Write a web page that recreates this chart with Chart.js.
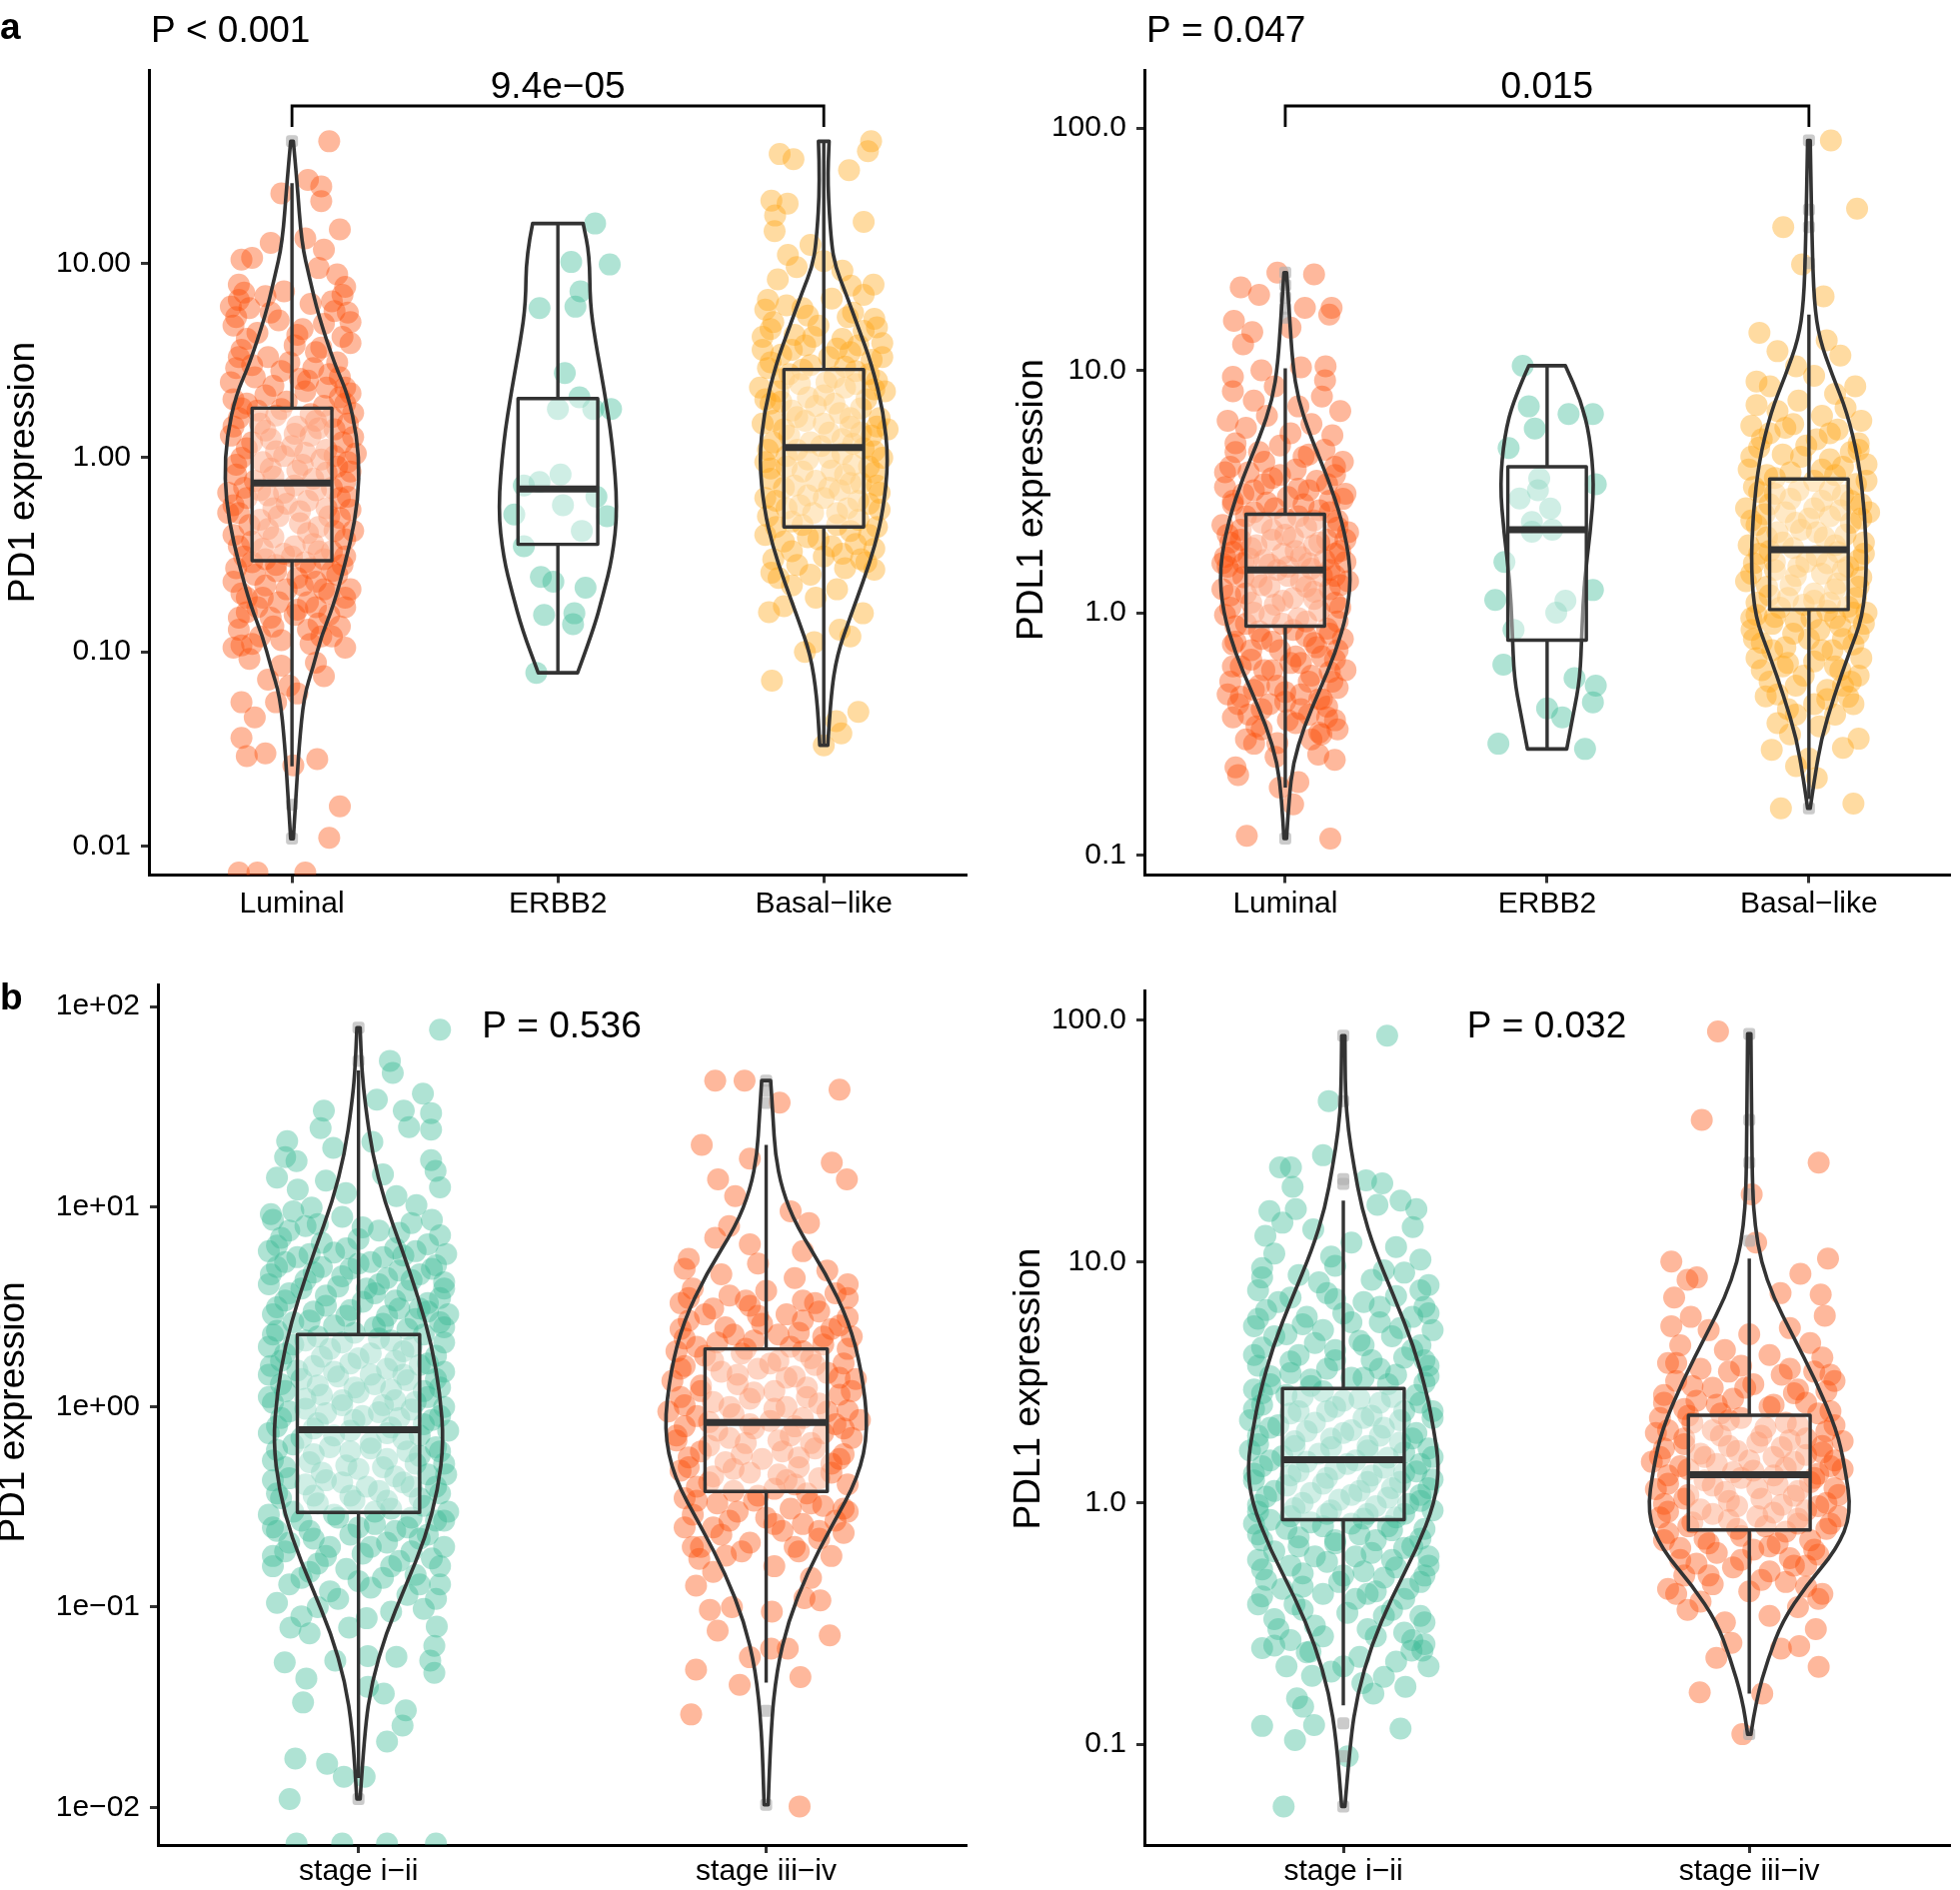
<!DOCTYPE html>
<html>
<head>
<meta charset="utf-8">
<script src="https://cdn.jsdelivr.net/npm/chart.js@4.4.1/dist/chart.umd.min.js"></script>
<style>
  body { margin: 0; background: #fff; width: 1961px; height: 1891px; position: relative; overflow: hidden; }
  canvas { position: absolute; }
</style>
</head>
<body>
<canvas id="pd1Sub" width="985" height="945" style="left:0;top:0"></canvas>
<canvas id="pdl1Sub" width="976" height="945" style="left:985px;top:0"></canvas>
<canvas id="pd1Stage" width="985" height="946" style="left:0;top:945px"></canvas>
<canvas id="pdl1Stage" width="976" height="946" style="left:985px;top:945px"></canvas>
<script>

// ---- categories and tick labels ----
var subtypes = ["Luminal", "ERBB2", "Basal\u2212like"];
var stages = ["stage i\u2212ii", "stage iii\u2212iv"];

var pd1SubTicks = [0.01, 0.1, 1, 10];
var pd1SubTickLabels = ["0.01", "0.10", "1.00", "10.00"];
var pdl1Ticks = [0.1, 1, 10, 100];
var pdl1TickLabels = ["0.1", "1.0", "10.0", "100.0"];
var pd1StageTicks = [0.01, 0.1, 1, 10, 100];
var pd1StageTickLabels = ["1e\u221202", "1e\u221201", "1e+00", "1e+01", "1e+02"];

var orange = "rgba(252,78,7,0.4)";
var teal = "rgba(55,185,148,0.4)";
var yellow = "rgba(255,165,20,0.4)";

// ---- panel a, PD1 by subtype: jitter points [x offset, value] ----
var pd1Lum = [[.14,42.7],[.06,27],[.11,25],[-.04,23],[.11,21],[.18,15],[-.15,10.7],[-.08,12.8],[.05,13.5],[-.19,10.5],[.12,11.8],[.17,8.8],[.2,7.6],[-.2,7.8],[.1,9.5],
[-.2,6.5],[-.16,5.9],[-.1,6.8],[-.03,7.2],[.07,6.2],[.15,6.4],[.21,5.6],[-.22,4.8],[-.13,4.4],[-.05,5.1],[.04,4.6],[.12,4.9],[.19,4.2],[-.19,3.6],[-.09,3.3],[.01,3.8],[.09,3.5],[.17,3.1],[.22,3.9],[-.21,2.9],[-.14,2.6],[-.04,2.8],[.06,2.5],[.14,2.7],[.2,2.3],
[-.22,2.0],[-.17,1.9],[-.1,2.1],[-.02,1.95],[.05,2.2],[.12,1.85],[.18,2.05],[.23,1.7],[-.2,1.6],[-.12,1.5],[-.06,1.65],[.02,1.45],[.09,1.55],[.16,1.4],[.21,1.5],
[-.23,1.3],[-.15,1.2],[-.08,1.25],[0,1.15],[.07,1.3],[.13,1.1],[.19,1.2],[.24,1.05],[-.19,1.0],[-.11,0.95],[-.03,1.02],[.04,0.92],[.11,0.98],[.17,0.9],[.22,0.85],
[-.21,0.82],[-.14,0.76],[-.07,0.8],[.01,0.72],[.08,0.78],[.15,0.7],[.2,0.75],[-.24,0.66],[-.17,0.62],[-.09,0.64],[-.02,0.58],[.06,0.6],[.13,0.55],[.21,0.63],
[-.2,0.52],[-.12,0.48],[-.05,0.5],[.03,0.46],[.1,0.44],[.18,0.49],[.23,0.42],[-.22,0.4],[-.15,0.37],[-.07,0.39],[.01,0.35],[.08,0.36],[.15,0.33],[.2,0.38],
[-.18,0.31],[-.1,0.3],[-.03,0.32],[.05,0.29],[.12,0.3],[.19,0.28],
[-.21,0.27],[-.14,0.25],[-.06,0.26],[.02,0.24],[.09,0.23],[.17,0.25],[.22,0.21],[-.19,0.2],[-.11,0.19],[-.02,0.21],[.06,0.18],[.14,0.2],[.2,0.17],
[-.17,0.16],[-.08,0.15],[.01,0.155],[.1,0.14],[.18,0.135],[-.2,0.13],[-.12,0.12],[-.04,0.115],[.07,0.11],[.15,0.12],[.2,0.105],[-.19,0.108],[-.22,0.105],
[-.16,0.092],[-.04,0.085],[.09,0.088],[.12,0.075],[-.09,0.072],[-.19,0.055],[-.06,0.055],[-.14,0.046],[-.19,0.036],[-.17,0.029],[-.1,0.03],[.005,0.026],[.095,0.028],
[.18,0.016],[.14,0.011],[-.2,0.0073],[-.13,0.0073],[.05,0.0073],[.02,0.061],[-.01,0.067]];
var pd1LumDense = [[-.18,7.1],[-.21,5.3],[-.17,4.1],[-.23,6.0],[.19,6.9],[.22,5.0],[.16,5.7],[-.08,5.6],[.02,4.3],[.11,3.7],
[-.2,3.3],[-.15,3.0],[-.01,3.1],[.08,2.9],[.18,2.6],[-.23,2.45],[-.07,2.35],[.03,2.55],[.13,2.3],[.22,2.15],
[-.19,1.8],[-.13,1.75],[-.04,1.78],[.07,1.68],[.15,1.62],[.2,1.9],[-.22,1.45],[-.1,1.38],[.01,1.33],[.1,1.42],
[.23,1.28],[-.17,1.12],[-.06,1.08],[.05,1.06],[.16,1.02],[-.21,0.92],[-.08,0.88],[.02,0.86],[.13,0.84],[.21,0.95],
[-.18,0.7],[-.12,0.68],[-.03,0.66],[.09,0.68],[.18,0.62],[-.22,0.57],[-.07,0.55],[.03,0.53],[.14,0.5],[.22,0.54],
[-.16,0.45],[-.09,0.43],[.06,0.41],[.16,0.42],[-.2,0.35],[-.11,0.34],[0,0.31],[.1,0.33],[.2,0.31],[-.15,0.29],
[-.06,0.28],[.07,0.27],[.15,0.26],[-.22,0.23],[-.1,0.22],[.04,0.22],[.12,0.21],[-.17,0.19],[-.05,0.18],[.09,0.17],
[.2,0.19],[-.13,0.17],[.02,0.165],[-.2,0.15],[.14,0.155],[-.07,0.135],[.06,0.13],[-.15,0.11],[.11,0.12],[-.24,0.52]];
var pd1Erb = [[.14,16.1],[.05,10.2],[.195,9.9],[.085,7.2],[.066,6.0],[-.069,5.9],[.026,2.73],[.081,2.05],[0,1.78],[.133,1.78],[.2,1.78],[.01,0.82],[-.069,0.75],[-.128,0.72],
[.019,0.57],[.145,0.63],[-.164,0.51],[.185,0.5],[.09,0.42],[-.128,0.35],[-.064,0.243],[-.017,0.23],[.104,0.214],[-.052,0.155],[.062,0.158],[.057,0.139],[-.081,0.078]];
var pd1Bas = [[.178,42.7],[.166,38],[-.166,36.7],[-.114,34.5],[.095,30.3],[-.197,21.1],[-.136,20.4],[-.183,17.7],[-.185,14.7],[.15,16.4],[-.135,11.1],[-.102,9.6],[-.173,8.3],
[.187,7.8],[.102,7.7],[0,10.3],[-.05,12.5],[.07,9.2],[.15,6.9],[-.21,6.5],
[-.22,5.8],[-.14,6.1],[-.06,5.4],[.03,6.6],[.11,5.6],[.19,5.2],[-.2,4.6],[-.11,4.3],[-.02,4.8],[.07,4.1],[.15,4.5],[.22,3.9],[-.23,3.6],[-.16,3.4],[-.07,3.8],[.02,3.3],[.1,3.5],[.18,3.2],
[-.21,2.9],[-.13,2.7],[-.05,3.0],[.04,2.6],[.12,2.8],[.2,2.5],[-.24,2.3],[-.17,2.2],[-.09,2.4],[0,2.1],[.08,2.3],[.16,2.0],[.23,2.2],
[-.2,1.9],[-.12,1.75],[-.03,1.85],[.06,1.7],[.14,1.8],[.21,1.6],[-.23,1.5],[-.15,1.4],[-.07,1.55],[.02,1.35],[.1,1.45],[.18,1.3],[.24,1.4],
[-.19,1.2],[-.1,1.1],[-.01,1.15],[.07,1.05],[.15,1.12],[.22,1.0],[-.22,0.95],[-.14,0.9],[-.06,0.98],[.03,0.86],[.11,0.92],[.19,0.84],
[-.2,0.78],[-.11,0.72],[-.03,0.76],[.06,0.68],[.14,0.74],[.21,0.66],[-.18,0.6],[-.09,0.57],[0,0.62],[.09,0.55],[.17,0.58],
[-.21,0.5],[-.12,0.47],[-.04,0.52],[.05,0.45],[.13,0.48],[.2,0.44],
[-.22,0.4],[-.15,0.37],[-.06,0.39],[.03,0.35],[.12,0.36],[.19,0.34],[-.19,0.3],[-.1,0.28],[0,0.31],[.08,0.27],[.16,0.29],
[.19,0.265],[-.197,0.256],[-.12,0.22],[.05,0.21],[-.03,0.19],[-.206,0.16],[.147,0.158],[-.15,0.172],[.06,0.13],[-.036,0.112],[-.071,0.1],[.1,0.12],
[-.195,0.071],[.13,0.049],[.047,0.044],[0,0.033],[.066,0.038]];
var pd1BasDense = [[-.19,5.0],[-.08,5.9],[.09,5.3],[.2,4.7],[-.23,4.2],[-.04,4.2],[.13,3.8],[-.12,3.6],[.05,3.65],[.22,3.3],
[-.2,3.1],[-.08,2.85],[.08,2.95],[.17,2.7],[-.15,2.55],[.01,2.45],[.12,2.4],[-.22,2.0],[-.06,2.05],[.19,2.25],
[-.16,1.95],[.04,1.9],[.1,1.6],[-.1,1.62],[-.19,1.55],[0,1.5],[.2,1.45],[-.13,1.3],[.07,1.25],[.14,1.35],
[-.05,1.2],[-.21,1.1],[.11,1.18],[.19,1.08],[-.14,1.02],[.02,1.0],[-.08,0.85],[.08,0.82],[.17,0.9],[-.2,0.88],
[-.15,0.7],[.02,0.7],[.1,0.74],[.2,0.72],[-.06,0.64],[-.22,0.62],[.13,0.6],[-.14,0.55],[.05,0.52],[.21,0.54],
[-.08,0.45],[.1,0.42],[-.18,0.44],[.17,0.4],[-.02,0.38],[-.12,0.33],[.07,0.32],[.14,0.3],[-.05,0.25],[-.17,0.24]];

// violin outlines [value, half width] from top to bottom
var pd1LumViolin = [[42.7,.005],[26.2,.019],[12.8,.036],[8.3,.067],[5.4,.10],[3.04,.16],[2.12,.21],[1.29,.245],[0.78,.254],[0.47,.237],[0.285,.20],[0.172,.155],[0.12,.11],[0.084,.08],[0.059,.045],[0.033,.027],[0.02,.017],[0.0109,.005]];
var pd1ErbViolin = [[16.1,.095],[11.1,.119],[6.24,.121],[4.06,.14],[2.28,.173],[1.2,.205],[0.543,.225],[0.306,.205],[0.199,.171],[0.129,.133],[0.078,.074]];
var pd1BasViolin = [[42.7,.02],[26.2,.014],[12.8,.028],[9.6,.044],[7.2,.08],[4.68,.13],[3.04,.18],[1.71,.225],[0.965,.243],[0.543,.224],[0.353,.193],[0.23,.148],[0.149,.098],[0.097,.05],[0.059,.026],[0.033,.015]];
// boxes [lower whisker, q1, median, q3, upper whisker]
var pd1SubBoxes = [[0.0257,0.295,0.74,1.80,26],[0.078,0.358,0.69,2.02,16.1],[0.033,0.44,1.13,2.85,42.7]];
var pd1SubOutliers = [[42.7,0.0163,0.0109],[],[]];

// ---- panel a, PDL1 by subtype ----
var pdl1Lum = [[-.196,16],[.11,24.9],[-.03,25.3],[-.126,14.4],[-.161,12.8],[.075,18.1],[.177,18.1],[.168,17],[.154,10.4],[.152,9.1],[-.2,9.4],[-.091,10.0],[.06,10.3],[-.17,22],[-.1,20.5],[.02,15],
[-.2,8.2],[-.12,7.5],[-.04,8.6],[.05,7.1],[.14,7.8],[.21,6.8],[-.22,6.2],[-.15,5.8],[-.07,6.5],[.02,5.5],[.1,6.0],[.18,5.4],[-.19,5.0],[-.1,4.6],[-.02,4.9],[.07,4.4],[.15,4.7],[.22,4.2],[-.21,4.0],
[-.14,3.8],[-.05,3.6],[.04,3.9],[.12,3.5],[.19,3.7],[-.23,3.3],[-.16,3.1],[-.08,3.4],[.01,3.0],[.09,3.2],[.17,2.9],[.23,3.1],
[-.2,2.8],[-.12,2.6],[-.04,2.7],[.05,2.5],[.13,2.65],[.2,2.4],[-.24,2.3],[-.17,2.2],[-.09,2.35],[0,2.1],[.08,2.25],[.16,2.0],[.24,2.15],
[-.21,1.95],[-.13,1.85],[-.05,2.0],[.04,1.8],[.11,1.9],[.19,1.75],[-.23,1.7],[-.16,1.6],[-.08,1.65],[.01,1.55],[.09,1.6],[.17,1.5],[.23,1.62],
[-.2,1.45],[-.11,1.4],[-.03,1.5],[.06,1.35],[.14,1.42],[.21,1.3],[-.24,1.25],[-.15,1.2],[-.06,1.28],[.03,1.15],[.11,1.22],[.19,1.1],
[-.21,1.05],[-.12,1.0],[-.04,1.08],[.05,0.95],[.13,1.02],[.2,0.92],[-.19,0.88],[-.1,0.84],[-.01,0.9],[.08,0.8],[.16,0.86],[.22,0.78],
[-.2,0.74],[-.13,0.7],[-.05,0.76],[.04,0.66],[.12,0.72],[.19,0.64],[-.17,0.6],[-.08,0.58],[.02,0.62],[.1,0.55],[.17,0.57],
[-.21,0.52],[-.12,0.48],[-.03,0.5],[.06,0.46],[.14,0.44],[.2,0.49],[-.18,0.42],[-.09,0.4],[0,0.43],[.09,0.38],[.16,0.41],
[-.2,0.37],[-.11,0.34],[.04,0.35],[.13,0.32],[.19,0.36],[-.15,0.3],[.138,0.315],[-.119,0.288],[-.037,0.254],[.189,0.247],[.126,0.26],[-.18,0.214],[-.19,0.23],
[-.147,0.12],[.172,0.117],[.03,0.162],[-.021,0.19],[.05,0.2]];
var pdl1LumDense = [[-.19,4.6],[-.08,4.2],[.09,4.5],[.19,4.0],[-.23,3.8],[-.02,3.7],[.16,3.4],[-.12,3.2],[.05,3.25],[.22,2.95],
[-.2,2.9],[-.07,2.85],[.07,2.8],[.17,2.6],[-.15,2.5],[0,2.45],[.11,2.4],[-.22,2.1],[-.05,2.2],[.2,2.25],
[-.17,2.0],[.03,2.05],[.13,1.95],[-.11,1.9],[-.2,1.78],[-.01,1.75],[.21,1.8],[-.14,1.68],[.06,1.7],[.15,1.65],
[-.06,1.58],[-.22,1.55],[.1,1.52],[.19,1.42],[-.16,1.4],[.01,1.42],[-.09,1.3],[.08,1.28],[.17,1.25],[-.21,1.18],
[-.13,1.1],[-.01,1.12],[.11,1.14],[.21,1.05],[-.06,0.98],[-.23,0.98],[.08,0.92],[-.15,0.9],[.03,0.85],[.17,0.82],
[-.09,0.78],[.11,0.75],[-.19,0.76],[.2,0.7],[-.02,0.7],[-.13,0.64],[.06,0.62],[.14,0.66],[-.05,0.58],[-.2,0.6],
[.09,0.52],[-.1,0.5],[.18,0.52],[0,0.47],[-.17,0.45],[.13,0.44],[-.06,0.42],[.06,0.4],[-.14,0.38],[.16,0.37],
[.01,0.36],[-.09,0.33],[.1,0.3],[-.03,0.29],[.2,0.33],[-.22,0.46],[.23,0.58],[.24,1.35],[-.24,1.6],[.23,2.0]];
var pdl1Erb = [[-.093,10.45],[-.07,7.1],[.082,6.6],[.175,6.6],[-.047,5.75],[-.147,4.78],[.186,3.39],[-.03,3.58],[-.105,2.96],[-.035,3.2],[.012,2.69],[-.058,2.37],[-.058,2.16],[.02,2.2],
[-.163,1.62],[.175,1.24],[.07,1.12],[.035,1.0],[-.198,1.13],[-.128,0.85],[-.167,0.61],[.105,0.537],[.186,0.5],[.175,0.427],[0,0.403],[.058,0.37],[-.186,0.288],[.145,0.274]];
var pdl1Bas = [[.084,88.9],[.184,46.5],[-.098,39],[-.026,27.4],[.056,20.2],[-.189,14.3],[.068,13.3],[-.049,10.4],[-.149,8.6],[.177,8.6],[.12,11.5],[-.12,12],[.02,9.5],[-.2,9.0],[.1,8.0],
[-.2,7.2],[-.12,6.8],[-.04,7.5],[.05,6.5],[.14,7.0],[.2,6.2],[-.22,5.9],[-.15,5.5],[-.06,6.0],[.03,5.2],[.11,5.7],[.19,5.0],[-.19,4.8],[-.1,4.5],[-.01,4.9],[.08,4.3],[.16,4.6],[.22,4.1],
[-.23,3.9],[-.16,3.7],[-.07,3.8],[.02,3.5],[.1,3.7],[.18,3.4],[-.21,3.3],[-.13,3.1],[-.04,3.2],[.05,2.9],[.13,3.05],[.2,2.8],
[-.24,2.7],[-.17,2.55],[-.09,2.6],[0,2.45],[.08,2.5],[.16,2.35],[.23,2.6],[-.2,2.3],[-.12,2.15],[-.03,2.2],[.06,2.05],[.14,2.1],[.21,1.95],
[-.23,1.9],[-.15,1.8],[-.06,1.85],[.03,1.72],[.11,1.78],[.19,1.65],[-.21,1.6],[-.13,1.5],[-.04,1.55],[.05,1.45],[.13,1.5],[.2,1.4],
[-.24,1.35],[-.16,1.28],[-.07,1.3],[.02,1.2],[.1,1.25],[.18,1.15],[-.2,1.1],[-.11,1.05],[-.02,1.08],[.07,1.02],[.15,1.06],[.22,1.0],
[-.22,0.95],[-.14,0.9],[-.05,0.92],[.04,0.85],[.12,0.88],[.19,0.82],[-.219,0.85],[-.18,0.75],[-.09,0.72],[0,0.78],[.09,0.7],[.17,0.74],
[-.2,0.65],[-.1,0.6],[.02,0.63],[.12,0.58],[.19,0.55],[-.15,0.52],[-.05,0.5],[.07,0.48],[.15,0.45],
[-.165,0.452],[.17,0.42],[-.08,0.4],[.1,0.38],[.04,0.34],[-.12,0.35],[.19,0.302],[.13,0.277],[-.072,0.315],
[-.142,0.272],[-.049,0.233],[.03,0.208],[-.107,0.156],[.17,0.163],[0,0.25]];
var pdl1BasDense = [[-.18,5.2],[-.09,5.8],[.08,5.5],[.19,4.7],[-.22,4.4],[-.03,4.4],[.13,4.0],[-.13,3.6],[.05,3.9],[.22,3.5],
[-.19,3.15],[-.07,2.95],[.08,3.2],[.16,2.9],[-.15,2.8],[.02,2.7],[.12,2.65],[-.22,2.4],[-.05,2.35],[.2,2.45],
[-.16,2.05],[.03,2.15],[.1,1.9],[-.1,1.95],[-.19,1.75],[-.01,1.62],[.21,1.75],[-.13,1.62],[.07,1.6],[.15,1.55],
[-.05,1.42],[-.22,1.45],[.11,1.32],[.19,1.28],[-.15,1.18],[.02,1.12],[-.08,1.15],[.08,1.1],[.17,1.0],[-.2,0.98],
[-.13,0.96],[.01,0.95],[.1,0.95],[.21,0.9],[-.06,0.82],[-.21,0.78],[.13,0.78],[-.14,0.7],[.05,0.7],[.2,0.65],
[-.08,0.62],[.1,0.6],[-.18,0.58],[.16,0.52],[-.02,0.55],[-.12,0.46],[.07,0.44],[.02,0.42],[-.05,0.38],[.13,0.5]];

var pdl1LumViolin = [[25.3,.005],[16.9,.016],[10.7,.028],[7.57,.049],[5.36,.096],[3.59,.163],[2.40,.217],[1.51,.252],[1.01,.238],[0.676,.19],[0.479,.131],[0.339,.072],[0.24,.03],[0.17,.014],[0.117,.005]];
var pdl1ErbViolin = [[10.45,.07],[7.57,.128],[5.36,.163],[3.39,.18],[2.14,.165],[1.35,.142],[0.851,.133],[0.537,.126],[0.38,.10],[0.274,.075]];
var pdl1BasViolin = [[88.9,.005],[33.8,.012],[19.0,.02],[13.5,.04],[9.5,.09],[6.75,.145],[4.26,.19],[2.54,.214],[1.51,.221],[0.955,.205],[0.676,.152],[0.452,.096],[0.302,.047],[0.202,.02],[0.156,.005]];
var pdl1SubBoxes = [[0.19,0.88,1.50,2.55,10.2],[0.274,0.77,2.2,4.0,10.45],[0.17,1.03,1.82,3.56,17]];
var pdl1SubOutliers = [[25.3,22.5,20,18,16.5,0.117],[],[88.9,46,39,27.7,0.156]];

// ---- panel b, PD1 by stage ----
var pd1Early = [[.2,76.7],[.077,53.6],[.084,46.6],[.045,34.3],[.158,36.7],[-.085,30.2],[.111,30.2],[.178,29.4],[-.093,24.7],[.124,25],[.178,24.3],[-.175,21.3],[-.062,19.7],[.034,21.1],
[-.152,16.9],[-.18,17.7],[.178,17.1],[.189,15.1],[-.149,12.2],[-.031,11.7],[.093,11.3],[.142,10.2],[-.16,9.5],[-.115,9.9],[.2,12.5],[-.2,14],[.06,14.5],[-.08,13.5],
[-.21,8.6],[-.13,8.0],[-.04,8.9],[.05,7.6],[.13,8.3],[.2,7.2],[-.19,7.0],[-.09,6.6],[0,6.9],[.09,6.2],[.17,6.5],[-.22,6.0],[-.15,5.6],[-.06,5.9],[.03,5.3],[.11,5.7],[.19,5.1],
[-.2,5.0],[-.11,4.7],[-.02,4.9],[.07,4.4],[.15,4.6],[.21,4.2],[-.22,4.1],[-.14,3.9],[-.05,4.0],[.04,3.7],[.12,3.8],[.2,3.5],[-.18,3.4],[-.08,3.2],[.01,3.35],[.1,3.1],[.17,3.0],
[-.21,2.9],[-.12,2.7],[-.03,2.85],[.06,2.6],[.14,2.75],[.21,2.5],[-.2,2.4],[-.1,2.25],[-.01,2.35],[.08,2.15],[.16,2.3],[-.16,2.05],[-.22,2.0],[-.07,1.95],[.03,1.85],[.11,1.9],[.19,1.8],
[-.19,1.7],[-.11,1.6],[-.02,1.65],[.07,1.55],[.15,1.62],[.21,1.5],[-.22,1.45],[-.14,1.38],[-.05,1.42],[.04,1.3],[.12,1.36],[.2,1.25],[-.18,1.2],[-.09,1.15],[0,1.18],[.09,1.08],[.17,1.12],
[-.21,1.05],[-.13,0.98],[-.04,1.02],[.05,0.94],[.13,0.97],[.2,0.9],[-.19,0.88],[-.1,0.83],[-.01,0.86],[.08,0.79],[.16,0.82],[.22,0.76],
[-.22,0.74],[-.14,0.7],[-.06,0.72],[.03,0.66],[.11,0.69],[.19,0.63],[-.2,0.61],[-.11,0.58],[-.02,0.6],[.07,0.55],[.15,0.57],[.21,0.52],
[-.18,0.5],[-.09,0.47],[0,0.49],[.09,0.45],[.17,0.46],[-.21,0.43],[-.13,0.41],[-.04,0.42],[.05,0.38],[.13,0.4],[.2,0.37],[-.19,0.35],[-.1,0.33],[-.01,0.34],[.08,0.31],[.16,0.32],[.22,0.3],
[-.22,0.29],[-.14,0.27],[-.05,0.28],[.04,0.26],[.12,0.25],[.19,0.27],[-.2,0.24],[-.11,0.22],[-.02,0.23],[.07,0.21],[.15,0.22],[.21,0.2],[-.18,0.19],[-.08,0.18],[.01,0.185],[.1,0.17],[.18,0.175],
[-.21,0.16],[-.12,0.15],[-.03,0.155],[.06,0.14],[.14,0.145],[.2,0.13],[-.17,0.13],[-.07,0.12],[.03,0.125],[.12,0.115],[.19,0.11],[-.2,0.105],[-.1,0.1],[.08,0.095],[.16,0.098],[-.14,0.09],[.02,0.088],
[-.167,0.079],[-.023,0.079],[.192,0.08],[-.12,0.074],[.186,0.064],[.176,0.054],[.186,0.047],[.093,0.0565],[.023,0.057],[-.057,0.054],[-.181,0.053],
[-.128,0.044],[-.136,0.0334],[.023,0.04],[.062,0.037],[.116,0.0305],[.108,0.0256],[.07,0.0213],[-.036,0.0142],[.015,0.0142],[-.077,0.0165],[-.155,0.0175],[-.169,0.011],
[-.152,0.0066],[-.04,0.0066],[.07,0.0066],[.19,0.0066]];
var pd1EarlyDense = [[-.215,9.2],[-.17,7.6],[-.1,8.2],[.01,7.9],[.1,7.4],[.18,8.6],[-.2,6.4],[-.12,5.8],[-.03,6.2],[.06,5.6],
[.14,6.0],[.215,5.8],[-.18,5.3],[-.09,5.0],[0,5.2],[.1,4.8],[.18,4.9],[-.215,4.6],[-.13,4.3],[-.04,4.5],
[.05,4.1],[.13,4.3],[.21,3.9],[-.17,3.7],[-.08,3.6],[.02,3.9],[.09,3.4],[.17,3.3],[-.2,3.15],[-.11,3.0],
[-.02,3.05],[.07,2.85],[.15,3.1],[.22,2.9],[-.16,2.65],[-.06,2.55],[.04,2.5],[.12,2.45],[.2,2.65],[-.21,2.3],
[-.13,2.15],[-.04,2.1],[.05,2.2],[.13,2.0],[.21,2.1],[-.18,1.85],[-.09,1.78],[0,1.75],[.09,1.7],[.17,1.65],
[-.215,1.6],[-.15,1.52],[-.06,1.5],[.03,1.45],[.11,1.45],[.19,1.38],[-.19,1.3],[-.1,1.28],[-.01,1.25],[.08,1.22],
[.16,1.2],[-.22,1.12],[-.13,1.1],[-.04,1.08],[.06,1.02],[.14,1.06],[.21,1.0],[-.17,0.95],[-.08,0.93],[.01,0.9],
[.1,0.88],[.18,0.86],[-.2,0.8],[-.11,0.78],[-.02,0.76],[.07,0.74],[.15,0.72],[-.16,0.65],[-.07,0.63],[.03,0.62],
[.12,0.6],[.2,0.6],[-.21,0.54],[-.12,0.53],[-.03,0.51],[.06,0.5],[.14,0.52],[.215,0.46],[-.17,0.44],[-.08,0.43],
[.02,0.4],[.11,0.42],[.19,0.4],[-.2,0.37],[-.11,0.36],[-.02,0.36],[.07,0.34],[.15,0.35],[-.16,0.3],[-.06,0.29],
[.04,0.3],[.13,0.28],[.21,0.27],[-.21,0.25],[-.12,0.24],[0,0.25],[.09,0.24],[.17,0.23],[-.17,0.21],[-.07,0.2],
[.03,0.2],[.13,0.19],[-.21,0.18],[-.1,0.165],[.08,0.16],[.2,0.16],[-.14,0.14],[0,0.135],[.15,0.13],[-.05,0.11]];
var pd1Late = [[-.125,42.7],[-.053,42.7],[.18,38.5],[.033,33.1],[-.158,20.4],[-.04,17.4],[.161,16.6],[.198,13.7],[-.118,13.7],[-.076,11.3],[-.091,8.0],[.105,8.3],[-.125,7.0],[-.04,6.5],[.09,6.0],[.06,9.5],[-.19,5.5],
[-.2,4.9],[-.11,4.6],[-.02,5.2],[.07,4.4],[.15,4.8],[.2,4.1],[-.18,3.9],[-.09,3.6],[0,3.8],[.09,3.4],[.17,3.7],[-.21,3.3],[-.13,3.1],[-.04,3.2],[.05,2.9],[.13,3.0],[.2,2.8],
[-.19,2.7],[-.1,2.5],[-.01,2.6],[.08,2.35],[.16,2.45],[.21,2.25],[-.2,2.2],[-.12,2.1],[-.03,2.15],[.06,2.0],[.14,2.05],
[-.22,1.9],[-.15,1.8],[-.06,1.85],[.03,1.7],[.11,1.75],[.19,1.65],[-.2,1.6],[-.11,1.5],[-.02,1.55],[.07,1.42],[.15,1.48],[.22,1.38],
[-.23,1.35],[-.16,1.28],[-.07,1.3],[.02,1.2],[.1,1.25],[.18,1.15],[-.21,1.12],[-.13,1.06],[-.04,1.1],[.05,1.0],[.13,1.04],[.2,0.96],
[-.24,0.95],[-.17,0.9],[-.08,0.92],[.01,0.85],[.09,0.88],[.17,0.82],[.23,0.86],[-.2,0.8],[-.12,0.76],[-.03,0.78],[.06,0.72],[.14,0.74],[.21,0.7],
[-.22,0.68],[-.14,0.64],[-.05,0.66],[.04,0.6],[.12,0.62],[.19,0.58],[-.19,0.56],[-.1,0.53],[-.01,0.55],[.08,0.5],[.16,0.52],
[-.21,0.48],[-.13,0.45],[-.04,0.47],[.05,0.43],[.13,0.44],[.2,0.41],[-.17,0.4],[-.08,0.38],[.02,0.39],[.1,0.37],
[-.2,0.35],[-.12,0.33],[-.03,0.34],[.06,0.31],[.14,0.32],[.2,0.3],[-.18,0.29],[-.09,0.27],[0,0.28],[.09,0.26],[.17,0.27],
[-.2,0.25],[-.11,0.23],[.04,0.24],[.13,0.22],[.19,0.235],[-.16,0.2],[-.06,0.19],[.07,0.2],[.16,0.18],[-.164,0.174],[-.099,0.181],
[-.13,0.15],[.02,0.16],[.11,0.14],[-.172,0.128],[.133,0.108],[.094,0.111],[.014,0.095],[-.084,0.1],[-.138,0.097],
[.156,0.0722],[-.119,0.0763],[.012,0.0621],[.053,0.0621],[-.04,0.0562],[.084,0.0447],[-.065,0.0409],[-.172,0.0487],[-.184,0.0291],[.082,0.0101]];
var pd1LateDense = [[-.19,3.5],[-.05,3.4],[.12,3.3],[.2,3.5],[-.15,2.9],[-.02,2.85],[.09,2.7],[.18,2.55],[-.21,2.45],[-.08,2.3],
[.03,2.3],[.14,2.25],[-.17,2.0],[-.05,1.95],[.09,1.9],[.2,1.95],[-.13,1.7],[.01,1.65],[.12,1.62],[-.21,1.55],
[-.07,1.45],[.05,1.4],[.18,1.4],[-.16,1.2],[-.03,1.18],[.1,1.12],[.21,1.2],[-.2,1.02],[-.09,1.0],[.02,0.98],
[.15,0.95],[-.14,0.84],[-.04,0.82],[.07,0.8],[.19,0.78],[-.22,0.72],[-.09,0.7],[.03,0.68],[.11,0.66],[-.16,0.6],
[-.06,0.58],[.08,0.56],[.18,0.55],[-.19,0.5],[-.08,0.49],[.03,0.46],[.16,0.47],[-.14,0.42],[.07,0.41],[-.02,0.36],
[-.17,0.34],[.11,0.33],[-.07,0.3],[.19,0.31],[.02,0.26],[-.13,0.25],[.13,0.24],[-.04,0.21],[.08,0.19],[-.18,0.2]];

var pd1EarlyViolin = [[78.5,.004],[48.3,.008],[31.9,.017],[18.4,.034],[10.6,.064],[6.1,.107],[3.51,.147],[2.02,.18],[1.16,.2],[0.67,.209],[0.386,.195],[0.222,.164],[0.128,.116],[0.0737,.067],[0.0425,.033],[0.0244,.015],[0.011,.004]];
var pd1LateViolin = [[42.7,.011],[27.8,.017],[18.4,.022],[12.2,.039],[8.03,.074],[4.63,.147],[2.66,.203],[1.53,.234],[0.77,.251],[0.443,.226],[0.255,.161],[0.147,.10],[0.0846,.054],[0.0487,.026],[0.0244,.011],[0.0103,.005]];
var pd1StageBoxes = [[0.014,0.297,0.77,2.30,48],[0.042,0.378,0.836,1.95,20.4]];
var pd1StageOutliers = [[78.5,53.6,0.011],[42.7,38,33,0.0303,0.0103]];

// ---- panel b, PDL1 by stage ----
var pdl1Early = [[.108,86.3],[-.036,46.3],[-.05,27.6],[-.156,24.6],[-.129,24.6],[-.125,20.4],[-.117,16.5],[-.182,16.2],[.056,21.7],[.096,21.1],[.141,17.9],[.084,17.2],[.171,13.9],[-.192,12.8],
[-.074,13.6],[.18,16.5],[-.15,14.5],[.02,12],[.13,11.5],[-.03,10.5],[-.17,10.8],[.19,10.2],
[-.2,9.4],[-.11,8.8],[-.02,9.6],[.07,8.4],[.15,9.0],[.21,8.0],[-.21,7.6],[-.13,7.1],[-.04,7.4],[.05,6.8],[.13,7.2],[.2,6.5],[-.19,6.3],[-.09,5.9],[0,6.1],[.09,5.6],[.17,5.9],[.22,5.2],
[-.22,5.4],[-.14,5.0],[-.05,5.2],[.04,4.7],[.12,4.9],[.19,4.5],[-.2,4.4],[-.11,4.1],[-.02,4.3],[.07,3.9],[.15,4.0],[.21,3.7],[-.21,3.7],[-.13,3.45],[-.04,3.6],[.05,3.3],[.13,3.4],[.2,3.15],[-.18,3.1],[-.08,3.05],
[-.22,2.95],[-.14,2.8],[-.05,2.9],[.04,2.7],[.12,2.75],[.19,2.6],[-.2,2.55],[-.11,2.4],[-.02,2.5],[.07,2.3],[.15,2.4],[.22,2.25],[-.23,2.2],[-.16,2.1],[-.07,2.15],[.02,2.0],[.1,2.05],[.18,1.95],
[-.21,1.9],[-.12,1.8],[-.03,1.85],[.06,1.72],[.14,1.78],[.21,1.68],[-.23,1.65],[-.15,1.56],[-.06,1.6],[.03,1.5],[.11,1.54],[.19,1.45],[-.2,1.42],[-.11,1.35],[-.02,1.38],[.07,1.3],[.15,1.33],[.22,1.25],
[-.22,1.24],[-.14,1.18],[-.05,1.2],[.04,1.12],[.12,1.15],[.19,1.08],[-.19,1.06],[-.1,1.0],[-.01,1.03],[.08,0.97],[.16,0.99],[.22,0.93],[-.21,0.92],[-.13,0.88],[-.04,0.9],[.05,0.86],[.13,0.87],
[-.22,0.82],[-.14,0.78],[-.05,0.8],[.04,0.74],[.12,0.77],[.19,0.71],[-.2,0.7],[-.11,0.66],[-.02,0.68],[.07,0.62],[.15,0.65],[.21,0.6],[-.21,0.58],[-.13,0.55],[-.04,0.57],[.05,0.52],[.13,0.54],[.2,0.5],
[-.19,0.48],[-.1,0.45],[-.01,0.47],[.08,0.43],[.16,0.44],[-.2,0.41],[-.12,0.38],[.03,0.4],[.12,0.36],[.19,0.34],[-.17,0.33],[-.07,0.31],[.06,0.3],[.15,0.29],[-.13,0.27],[.2,0.26],
[-.17,0.256],[.195,0.244],[.168,0.244],[-.081,0.242],[.153,0.173],[.047,0.179],[.074,0.162],[-.077,0.192],[-.114,0.155],[-.099,0.143],[0,0.21],
[-.2,0.119],[-.119,0.104],[-.072,0.12],[.141,0.116],[.011,0.089],[-.147,0.0552]];
var pdl1EarlyDense = [[-.2,8.6],[-.06,8.2],[.1,9.2],[.19,7.6],[-.16,6.8],[-.02,7.0],[.09,6.5],[.21,6.1],[-.21,5.8],[-.1,5.5],
[.02,5.6],[.14,5.3],[-.17,4.9],[-.07,4.6],[.05,4.5],[.17,4.3],[-.22,4.1],[-.13,3.85],[-.02,3.9],[.09,3.6],
[.2,3.9],[-.18,3.35],[-.08,3.25],[.02,3.3],[.11,3.1],[.21,3.35],[-.2,2.85],[-.1,2.75],[0,2.65],[.09,2.6],
[.18,2.8],[-.22,2.45],[-.13,2.35],[-.04,2.4],[.05,2.25],[.14,2.2],[.22,2.4],[-.18,2.05],[-.09,1.98],[0,1.95],
[.09,1.9],[.17,1.85],[-.21,1.75],[-.12,1.72],[-.03,1.7],[.06,1.65],[.15,1.62],[.22,1.55],[-.18,1.5],[-.09,1.48],
[.01,1.45],[.1,1.4],[.18,1.35],[-.22,1.32],[-.13,1.3],[-.04,1.27],[.06,1.22],[.14,1.22],[.21,1.15],[-.17,1.12],
[-.08,1.1],[.02,1.08],[.11,1.05],[.19,1.02],[-.21,0.98],[-.12,0.95],[-.03,0.93],[.06,0.9],[.15,0.9],[-.18,0.85],
[-.08,0.83],[.02,0.82],[.11,0.8],[.2,0.78],[-.21,0.74],[-.11,0.72],[-.02,0.7],[.08,0.7],[.17,0.66],[-.17,0.63],
[-.07,0.6],[.03,0.6],[.12,0.58],[.21,0.55],[-.2,0.53],[-.1,0.51],[0,0.5],[.1,0.49],[.19,0.47],[-.15,0.44],
[-.05,0.42],[.06,0.42],[.15,0.4],[-.21,0.38],[-.1,0.36],[.01,0.35],[.1,0.34],[.2,0.32],[-.16,0.3],[-.05,0.28],
[.08,0.28],[.17,0.27],[-.2,0.25],[-.09,0.24],[.04,0.23],[.13,0.22],[-.14,0.21],[.21,0.21],[-.03,0.2],[.1,0.19]];
var pdl1Late = [[-.077,89.9],[-.117,38.7],[.171,25.7],[.006,19],[.017,12.0],[-.192,10.0],[.194,10.3],[.126,8.9],[-.152,8.4],[-.129,8.6],[-.185,7.1],[.077,7.4],[.176,7.3],[.186,5.97],[-.144,5.9],[-.192,5.4],
[-.1,5.2],[0,5.0],[.1,5.3],[.15,4.6],[-.17,4.5],[-.06,4.3],[.05,4.1],[.18,4.0],[-.2,3.8],[-.12,3.6],[-.02,3.7],[.08,3.4],[.16,3.5],[.21,3.2],[-.18,3.2],[-.09,3.0],[.01,3.1],[.11,2.85],[.19,2.9],
[-.21,2.8],[-.13,2.65],[-.04,2.7],[.05,2.5],[.14,2.6],[.2,2.4],[-.16,2.45],[-.07,2.35],
[-.22,2.25],[-.14,2.15],[-.05,2.2],[.04,2.05],[.12,2.1],[.19,1.98],[-.23,1.95],[-.16,1.85],[-.07,1.9],[.02,1.78],[.1,1.82],[.18,1.72],[.23,1.8],
[-.21,1.68],[-.12,1.6],[-.03,1.64],[.06,1.55],[.14,1.58],[.21,1.5],[-.24,1.48],[-.17,1.42],[-.08,1.45],[.01,1.36],[.09,1.4],[.17,1.32],[.23,1.38],
[-.2,1.3],[-.11,1.24],[-.02,1.27],[.07,1.19],[.15,1.22],[.21,1.15],[-.23,1.14],[-.15,1.08],[-.06,1.11],[.03,1.04],[.11,1.07],[.19,1.0],
[-.21,0.99],[-.12,0.94],[-.03,0.97],[.06,0.91],[.14,0.93],[.22,0.88],[-.22,0.87],[-.14,0.83],[-.05,0.85],[.04,0.8],[.12,0.82],[.19,0.78],
[-.2,0.75],[-.11,0.71],[-.02,0.73],[.07,0.68],[.15,0.7],[-.17,0.65],[-.08,0.62],[.01,0.64],[.1,0.59],[.17,0.61],[-.13,0.56],[-.04,0.54],[.05,0.52],[.14,0.55],[-.16,0.5],
[.09,0.47],[-.09,0.46],[-.2,0.44],[.18,0.42],[0,0.43],[-.12,0.39],[.12,0.37],[-.152,0.36],[.17,0.4],[.05,0.34],[-.06,0.32],[.164,0.3],[.123,0.255],[.078,0.249],[-.044,0.263],
[-.081,0.228],[.171,0.209],[-.122,0.164],[.032,0.162],[-.017,0.11]];
var pdl1LateDense = [[-.18,3.8],[-.05,3.5],[.1,3.6],[.2,3.4],[-.14,3.05],[-.01,3.0],[.12,2.95],[-.21,2.6],[-.08,2.55],[.06,2.55],
[.17,2.35],[-.15,2.3],[-.02,2.25],[.09,2.15],[.21,2.1],[-.2,2.0],[-.09,2.0],[.03,1.9],[.14,1.85],[-.16,1.75],
[-.05,1.72],[.08,1.7],[.18,1.62],[-.22,1.55],[-.11,1.55],[0,1.5],[.11,1.48],[.2,1.42],[-.15,1.38],[-.04,1.34],
[.06,1.3],[.16,1.27],[-.2,1.2],[-.09,1.18],[.02,1.15],[.12,1.12],[.22,1.08],[-.16,1.04],[-.05,1.02],[.08,0.98],
[.17,0.97],[-.2,0.92],[-.09,0.9],[.02,0.88],[.12,0.86],[.2,0.82],[-.15,0.8],[-.03,0.78],[.09,0.76],[-.21,0.7],
[-.1,0.68],[.05,0.66],[.16,0.64],[-.17,0.58],[-.02,0.58],[.11,0.55],[-.1,0.5],[.03,0.48],[.14,0.45],[-.18,0.42]];

var pdl1EarlyViolin = [[86.3,.004],[49.6,.005],[35.2,.012],[24.9,.026],[16.7,.045],[11.2,.077],[7.08,.126],[4.48,.173],[2.83,.206],[2.01,.223],[1.43,.236],[1.01,.226],[0.64,.18],[0.405,.119],[0.256,.069],[0.162,.035],[0.103,.017],[0.0552,.004]];
var pdl1LateViolin = [[87.9,.004],[35.2,.006],[19.8,.008],[14.1,.014],[9.98,.029],[7.08,.06],[5.02,.105],[3.18,.165],[2.01,.215],[1.43,.235],[0.902,.252],[0.64,.215],[0.454,.14],[0.322,.081],[0.228,.047],[0.153,.017],[0.11,.004]];
var pdl1StageBoxes = [[0.145,0.852,1.51,2.98,17.9],[0.162,0.773,1.31,2.31,10.3]];
var pdl1StageOutliers = [[86.3,46.3,22,21,0.122,0.089,0.0552],[87.9,38.7,25.7,19,12.2,0.11]];

var FONT = '"Liberation Sans", Arial, Helvetica, sans-serif';

function smoothSide(ctx, pts, first) {
  if (first) ctx.moveTo(pts[0][0], pts[0][1]);
  else ctx.lineTo(pts[0][0], pts[0][1]);
  for (var i = 1; i < pts.length - 1; i++) {
    var mx = (pts[i][0] + pts[i + 1][0]) / 2;
    var my = (pts[i][1] + pts[i + 1][1]) / 2;
    ctx.quadraticCurveTo(pts[i][0], pts[i][1], mx, my);
  }
  var last = pts[pts.length - 1];
  ctx.lineTo(last[0], last[1]);
}

function drawExtras(chart, p) {
  var ctx = chart.ctx;
  var xs = chart.scales.x;
  var ys = chart.scales.y;
  var area = chart.chartArea;
  ctx.save();

  // outliers (grey squares)
  ctx.fillStyle = "rgba(175,175,175,0.65)";
  p.outliers.forEach(function(vals, i) {
    vals.forEach(function(v) {
      var x = xs.getPixelForValue(i + 1), y = ys.getPixelForValue(v);
      ctx.beginPath();
      ctx.roundRect(x - 6, y - 6, 12, 12, 3);
      ctx.fill();
    });
  });

  ctx.strokeStyle = "#333333";
  ctx.lineJoin = "round";

  // violins
  ctx.lineWidth = 3.6;
  p.violins.forEach(function(prof, i) {
    var g = i + 1;
    var left = prof.map(function(d) { return [xs.getPixelForValue(g - d[1]), ys.getPixelForValue(d[0])]; });
    var right = prof.map(function(d) { return [xs.getPixelForValue(g + d[1]), ys.getPixelForValue(d[0])]; }).reverse();
    ctx.beginPath();
    smoothSide(ctx, left, true);
    smoothSide(ctx, right, false);
    ctx.closePath();
    ctx.stroke();
  });

  // boxes
  p.boxes.forEach(function(b, i) {
    var g = i + 1;
    var x0 = xs.getPixelForValue(g - 0.15), x1 = xs.getPixelForValue(g + 0.15), xc = xs.getPixelForValue(g);
    var lo = ys.getPixelForValue(b[0]), q1 = ys.getPixelForValue(b[1]), med = ys.getPixelForValue(b[2]);
    var q3 = ys.getPixelForValue(b[3]), hi = ys.getPixelForValue(b[4]);
    ctx.lineWidth = 3.4;
    ctx.beginPath();
    ctx.moveTo(xc, q3); ctx.lineTo(xc, hi);
    ctx.moveTo(xc, q1); ctx.lineTo(xc, lo);
    ctx.stroke();
    ctx.fillStyle = "rgba(255,255,255,0.4)";
    ctx.fillRect(x0, q3, x1 - x0, q1 - q3);
    ctx.strokeRect(x0, q3, x1 - x0, q1 - q3);
    ctx.lineWidth = 7;
    ctx.beginPath();
    ctx.moveTo(x0, med); ctx.lineTo(x1, med);
    ctx.stroke();
  });

  // texts
  ctx.fillStyle = "#000";
  ctx.font = "37px " + FONT;
  ctx.textBaseline = "alphabetic";
  if (p.title.align === "left") {
    ctx.textAlign = "left";
    ctx.fillText(p.title.text, area.left + 2, p.title.y);
  } else {
    ctx.textAlign = "center";
    ctx.fillText(p.title.text, (area.left + area.right) / 2, p.title.y);
  }

  if (p.bracket) {
    var bx0 = xs.getPixelForValue(p.bracket.from), bx1 = xs.getPixelForValue(p.bracket.to);
    ctx.strokeStyle = "#000";
    ctx.lineWidth = 2.8;
    ctx.lineJoin = "miter";
    ctx.beginPath();
    ctx.moveTo(bx0, p.bracket.legY);
    ctx.lineTo(bx0, p.bracket.y);
    ctx.lineTo(bx1, p.bracket.y);
    ctx.lineTo(bx1, p.bracket.legY);
    ctx.stroke();
    ctx.textAlign = "center";
    ctx.fillText(p.bracket.text, (bx0 + bx1) / 2, p.bracket.textY);
  }

  // y axis title
  ctx.save();
  ctx.translate(p.yTitle.x, p.yTitle.y);
  ctx.rotate(-Math.PI / 2);
  ctx.textAlign = "center";
  ctx.textBaseline = "middle";
  ctx.fillText(p.yTitle.text, 0, 0);
  ctx.restore();

  if (p.letter) {
    ctx.font = "bold 37px " + FONT;
    ctx.textAlign = "left";
    ctx.fillText(p.letter.text, p.letter.x, p.letter.y);
  }
  ctx.restore();
}

function makePanel(id, p) {
  var datasets = p.points.map(function(pts, i) {
    return {
      data: pts.map(function(d) { return {x: i + 1 + d[0], y: d[1]}; }),
      backgroundColor: p.colors[i],
      borderWidth: 0,
      pointRadius: 11,
      pointHoverRadius: 11,
      clip: 0
    };
  });

  var axisGrid = {drawOnChartArea: false, drawTicks: true, tickLength: 8, color: "#333", lineWidth: 3};
  var axisBorder = {display: true, color: "#000", width: 3};

  new Chart(document.getElementById(id), {
    type: "scatter",
    data: {datasets: datasets},
    options: {
      responsive: false,
      animation: false,
      devicePixelRatio: 1,
      layout: {padding: {left: 0, top: p.area.top, right: p.area.right, bottom: 0}},
      plugins: {legend: {display: false}, tooltip: {enabled: false}},
      scales: {
        x: {
          type: "linear", min: p.xMin, max: p.xMax,
          afterBuildTicks: function(s) { s.ticks = p.groups.map(function(g, i) { return {value: i + 1}; }); },
          afterFit: function(s) { s.height = p.area.xAxisH; },
          ticks: {
            callback: function(v, i) { return p.groups[i]; },
            font: {family: FONT, size: 30}, color: "#000", padding: p.xPad,
            autoSkip: false, maxRotation: 0
          },
          grid: axisGrid,
          border: axisBorder
        },
        y: {
          type: "logarithmic", min: p.yMin, max: p.yMax,
          afterBuildTicks: function(s) { s.ticks = p.tickVals.map(function(v) { return {value: v}; }); },
          afterFit: function(s) { s.width = p.area.yAxisW; },
          ticks: {
            callback: function(v, i) { return p.tickLabels[i]; },
            font: {family: FONT, size: 30}, color: "#000", padding: 10, autoSkip: false
          },
          grid: axisGrid,
          border: axisBorder
        }
      }
    },
    plugins: [{id: "extras", afterDatasetsDraw: function(chart) { drawExtras(chart, p); }}]
  });
}

makePanel("pd1Sub", {
  groups: subtypes, colors: [orange, teal, yellow],
  points: [pd1Lum.concat(pd1LumDense), pd1Erb, pd1Bas.concat(pd1BasDense)],
  violins: [pd1LumViolin, pd1ErbViolin, pd1BasViolin],
  boxes: pd1SubBoxes, outliers: pd1SubOutliers,
  tickVals: pd1SubTicks, tickLabels: pd1SubTickLabels,
  yMin: 0.00708, yMax: 99.5, xMin: 0.462, xMax: 3.533,
  area: {top: 70, right: 19, yAxisW: 149, xAxisH: 69.5}, xPad: 3,
  title: {text: "P < 0.001", align: "left", y: 42},
  bracket: {from: 1, to: 3, y: 106, legY: 127, text: "9.4e\u221205", textY: 98},
  yTitle: {text: "PD1 expression", x: 24, y: 472.6},
  letter: {text: "a", x: 0, y: 39}
});

makePanel("pdl1Sub", {
  groups: subtypes, colors: [orange, teal, yellow],
  points: [pdl1Lum.concat(pdl1LumDense), pdl1Erb, pdl1Bas.concat(pdl1BasDense)],
  violins: [pdl1LumViolin, pdl1ErbViolin, pdl1BasViolin],
  boxes: pdl1SubBoxes, outliers: pdl1SubOutliers,
  tickVals: pdl1Ticks, tickLabels: pdl1TickLabels,
  yMin: 0.0827, yMax: 173.6, xMin: 0.462, xMax: 3.535,
  area: {top: 70, right: 0, yAxisW: 160, xAxisH: 69.5}, xPad: 3,
  title: {text: "P = 0.047", align: "left", y: 42},
  bracket: {from: 1, to: 3, y: 106, legY: 127, text: "0.015", textY: 98},
  yTitle: {text: "PDL1 expression", x: 48, y: 500}
});

makePanel("pd1Stage", {
  groups: stages, colors: [teal, orange],
  points: [pd1Early.concat(pd1EarlyDense), pd1Late.concat(pd1LateDense)],
  violins: [pd1EarlyViolin, pd1LateViolin],
  boxes: pd1StageBoxes, outliers: pd1StageOutliers,
  tickVals: pd1StageTicks, tickLabels: pd1StageTickLabels,
  yMin: 0.00648, yMax: 129, xMin: 0.508, xMax: 2.489,
  area: {top: 40, right: 19, yAxisW: 158, xAxisH: 45}, xPad: 1,
  title: {text: "P = 0.536", align: "center", y: 93},
  yTitle: {text: "PD1 expression", x: 14, y: 468},
  letter: {text: "b", x: 0, y: 65}
});

makePanel("pdl1Stage", {
  groups: stages, colors: [teal, orange],
  points: [pdl1Early.concat(pdl1EarlyDense), pdl1Late.concat(pdl1LateDense)],
  violins: [pdl1EarlyViolin, pdl1LateViolin],
  boxes: pdl1StageBoxes, outliers: pdl1StageOutliers,
  tickVals: pdl1Ticks, tickLabels: pdl1TickLabels,
  yMin: 0.0382, yMax: 133, xMin: 0.51, xMax: 2.492,
  area: {top: 46, right: 0, yAxisW: 160, xAxisH: 45}, xPad: 1,
  title: {text: "P = 0.032", align: "center", y: 93},
  yTitle: {text: "PDL1 expression", x: 45, y: 444.5}
});

</script>
</body>
</html>
